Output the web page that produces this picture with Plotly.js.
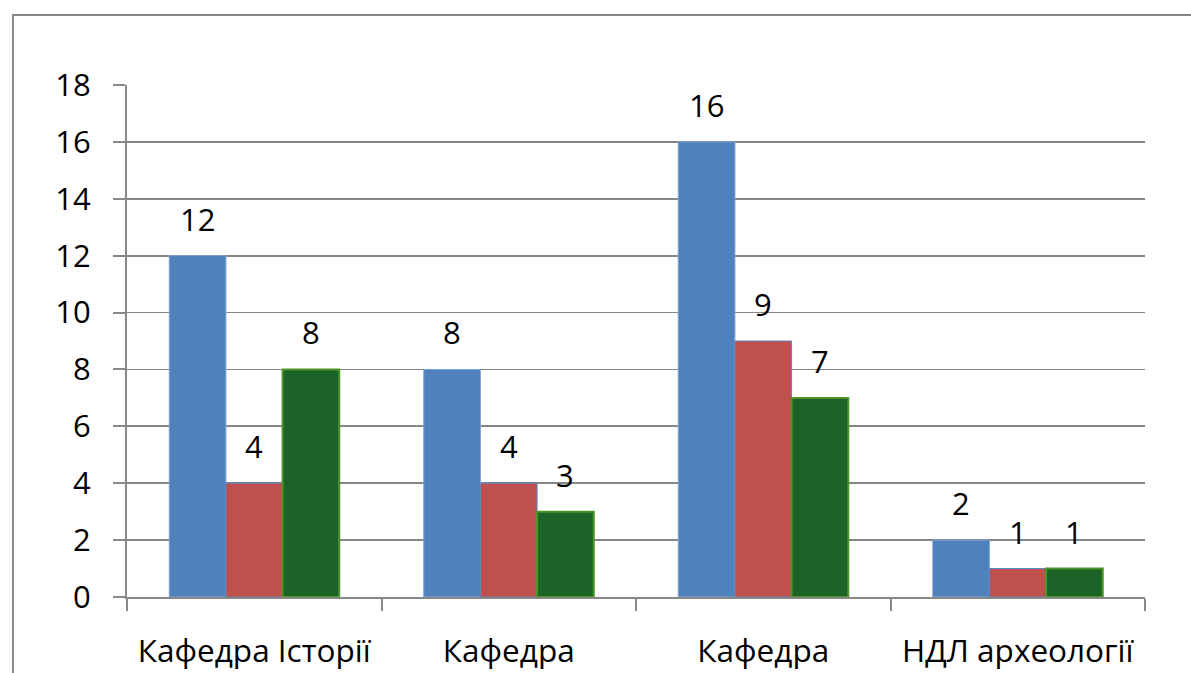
<!DOCTYPE html>
<html>
<head>
<meta charset="utf-8">
<script src="https://cdn.plot.ly/plotly-3.0.1.min.js"></script>
<style>html,body{margin:0;padding:0;background:#fff;}#chart{width:1191px;height:673px;}</style>
</head>
<body>
<div id="chart"></div>
<script>
const categories = ['Кафедра Історії', 'Кафедра', 'Кафедра', 'НДЛ археології'];
const categoryIds = ['k1', 'k2', 'k3', 'k4'];
const series1 = [12, 8, 16, 2];
const series2 = [4, 4, 9, 1];
const series3 = [8, 3, 7, 1];
const yTicks = [0, 2, 4, 6, 8, 10, 12, 14, 16, 18];

const FONT = 'Open Sans, sans-serif';
const seriesList = [
  {y: series1, color: '#4F81BD', line: '#7FA3D3', lw: 1, shift: -56.6},
  {y: series2, color: '#C0504D', line: '#5B86C0', lw: 1, shift: 0},
  {y: series3, color: '#1B6326', line: '#4E9326', lw: 2, shift: 56.6}
];

const traces = seriesList.map(s => ({
  type: 'bar', x: categoryIds, y: s.y,
  marker: {color: s.color, line: {color: s.line, width: s.lw}},
  hoverinfo: 'none'
}));

const annotations = [];
seriesList.forEach(s => {
  s.y.forEach((v, i) => {
    annotations.push({
      x: categoryIds[i], y: v, xref: 'x', yref: 'y', text: String(v),
      showarrow: false, xshift: s.shift, yshift: 37, yanchor: 'middle',
      font: {family: FONT, size: 31, color: '#000'}
    });
  });
});

const layout = {
  width: 1191, height: 673,
  margin: {l: 127, r: 46, t: 85, b: 76},
  paper_bgcolor: '#fff', plot_bgcolor: '#fff',
  showlegend: false,
  barmode: 'group', bargap: 0.332, bargroupgap: 0,
  font: {family: FONT, size: 31, color: '#000'},
  xaxis: {
    type: 'category', tickmode: 'array', tickvals: categoryIds, ticktext: categories,
    tickson: 'boundaries', ticks: 'outside', ticklen: 12, tickwidth: 2, tickcolor: '#888',
    showline: true, linecolor: '#888', linewidth: 2, showgrid: false,
    tickfont: {family: FONT, size: 31.5, color: '#000'}, ticklabelstandoff: 25,
    fixedrange: true
  },
  yaxis: {
    range: [0, 18], tickmode: 'array', tickvals: yTicks,
    ticks: 'outside', ticklen: 12, tickwidth: 2, tickcolor: '#888',
    showline: true, linecolor: '#888', linewidth: 2,
    showgrid: true, gridcolor: '#868686', gridwidth: 1.7, zeroline: false,
    tickfont: {family: FONT, size: 31, color: '#000'}, ticklabelstandoff: 16,
    fixedrange: true
  },
  annotations: annotations,
  shapes: [{
    type: 'rect', xref: 'paper', yref: 'paper',
    x0: -0.112, x1: 1.2, y0: -0.4, y1: 1.1367,
    line: {color: '#888', width: 2}, fillcolor: 'rgba(0,0,0,0)', layer: 'below'
  }]
};

Plotly.newPlot('chart', traces, layout, {displayModeBar: false, staticPlot: true});
</script>
</body>
</html>
